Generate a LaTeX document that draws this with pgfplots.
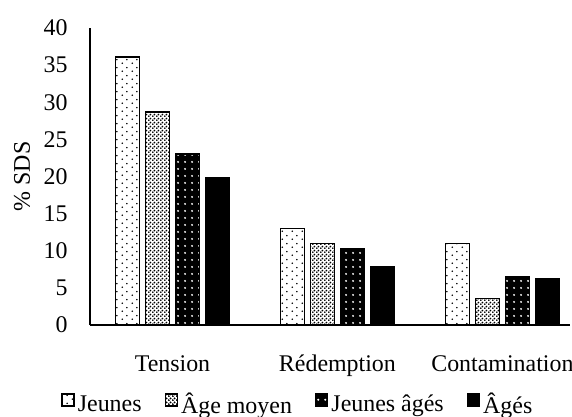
\documentclass[12pt,border=0pt]{standalone}
\usepackage{fontspec}
\setmainfont{Liberation Serif}
\usepackage{pgfplots}
\pgfplotsset{compat=1.18}
\usetikzlibrary{patterns,patterns.meta}
\tikzdeclarepattern{
  name=sparsedots, type=uncolored,
  bounding box={(0,0) and (5bp,4bp)},
  tile size={(5bp,4bp)},
  code={\fill (1.25bp,1bp) circle (0.45bp); \fill (3.75bp,3bp) circle (0.45bp);}
}
\tikzdeclarepattern{
  name=densecross, type=uncolored,
  bounding box={(0,0) and (2bp,2bp)},
  tile size={(2bp,2bp)},
  code={\fill (0.5bp,0.5bp) circle (0.6bp); \fill (1.5bp,1.5bp) circle (0.6bp);}
}
\tikzdeclarepattern{
  name=whitedots, type=uncolored,
  bounding box={(0,0) and (3.5bp,3.5bp)},
  tile size={(3.5bp,3.5bp)},
  code={\fill (1.75bp,1.75bp) circle (0.6bp);}
}
\begin{document}
\begin{tikzpicture}
\path[use as bounding box] (-45bp,-46bp) rectangle (241bp,162.5bp);
\begin{axis}[
  scale only axis,
  width=240bp, height=148.5bp,
  ybar=3bp, bar width=12bp,
  xmin=-0.5, xmax=2.41,
  ymin=0, ymax=40,
  ytick={0,5,...,40},
  xtick={0,1,2},
  xticklabels={Tension,Rédemption,Contamination},
  axis x line*=bottom, axis y line*=left,
  axis line style={black, line width=0.6bp, -},
  tick style={draw=none},
  /pgf/number format/assume math mode=true,
  yticklabel style={xshift=-7bp},
  xticklabel style={anchor=base, yshift=-19bp},
  ylabel={\% SDS},
  ylabel style={at={(axis description cs:-0.1417,0.5)}, anchor=center},
  legend columns=4,
  legend style={draw=none, fill=none, at={(0.433,0)}, anchor=center, yshift=-40bp,
    nodes={inner sep=1bp},
    /tikz/every odd column/.append style={column sep=0.5bp},
    /tikz/every even column/.append style={column sep=10.5bp}},
  legend image code/.code={\draw[#1] (0bp,-0.5bp) rectangle (6bp,5.5bp);},
  every axis plot/.append style={draw=black, line width=0.75bp},
]
\addplot[fill=white, postaction={pattern=sparsedots, pattern color=black}] coordinates {(0,36.1) (1,13.0) (2,11.0)};
\addplot[fill=white, postaction={pattern=densecross, pattern color=black}] coordinates {(0,28.7) (1,11.0) (2,3.6)};
\addplot[fill=black, postaction={pattern=whitedots, pattern color=white}] coordinates {(0,23.0) (1,10.3) (2,6.5)};
\addplot[fill=black] coordinates {(0,19.8) (1,7.85) (2,6.2)};
\legend{Jeunes,Âge moyen,Jeunes âgés,Âgés}
\end{axis}
\end{tikzpicture}
\end{document}
